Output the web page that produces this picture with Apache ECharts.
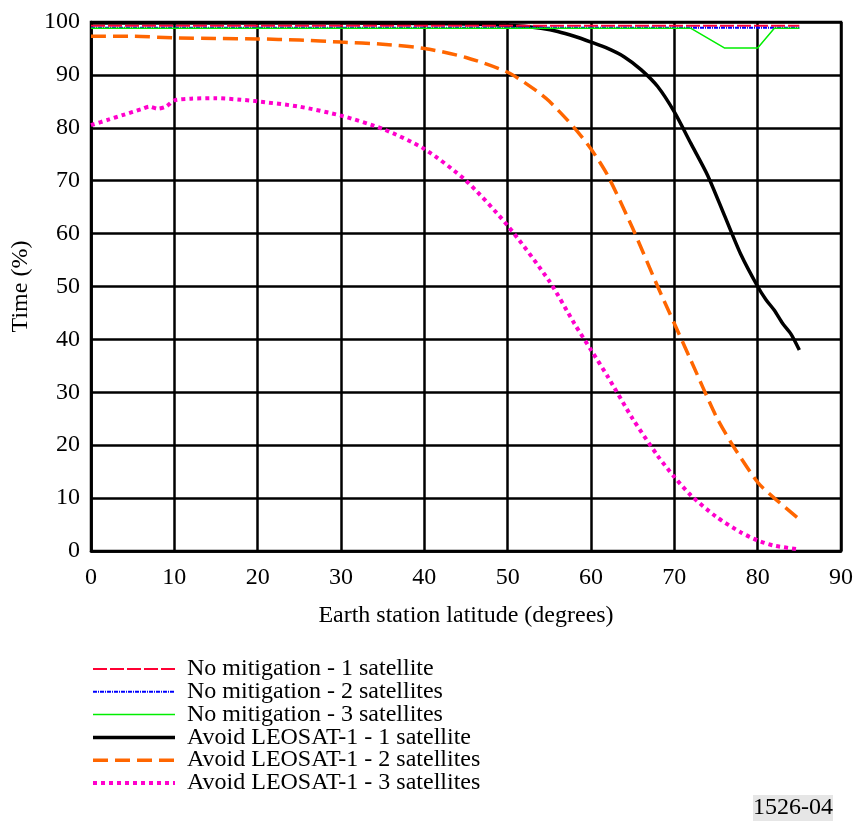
<!DOCTYPE html>
<html><head><meta charset="utf-8">
<script src="https://cdn.jsdelivr.net/npm/echarts@6/dist/echarts.min.js"></script>
<style>html,body{margin:0;padding:0;background:#fff}#c{width:854px;height:825px}</style>
</head><body><div id="c"></div>
<script>
const xTicks = [0,10,20,30,40,50,60,70,80,90];
const yTicks = [0,10,20,30,40,50,60,70,80,90,100];

const noMit1X = [0, 85];
const noMit1Y = [99.3, 99.3];
const noMit2X = [0, 85];
const noMit2Y = [98.9, 98.9];
const noMit3X = [0, 72, 76, 80, 82, 85];
const noMit3Y = [98.8, 98.8, 95.1, 95.1, 98.8, 98.8];
const avoid1X = [0,10,20,30,40,45,50,52,54,56,58,60,62,64,66,68,70,72,74,76,78,80,81,82,83,84,85];
const avoid1Y = [99.8,99.8,99.8,99.8,99.7,99.6,99.4,99.2,98.8,98.2,97.3,96.2,95,93.4,91,87.8,83,77,71,63.5,56,50,47.5,45.5,43,41,38];
const avoid2X = [0,5,10,15,20,25,30,35,40,45,50,53,55,58,60,62,65,68,70,72,75,77,80,82,85];
const avoid2Y = [97.3,97.3,97,96.9,96.8,96.6,96.2,95.8,95,93.3,90.5,87.5,85,80,76,71,61,50,43,36,25.5,20,13,10,6];
const avoid3X = [0,2,4,6,7,8,9,10,12,15,18,20,25,30,35,40,45,50,55,58,60,62,65,68,70,72,75,78,80,82,85];
const avoid3Y = [80.5,81.5,82.5,83.5,84,83.6,84,85.2,85.5,85.6,85.3,85,84,82.3,79.8,76,70,61.5,51,43,38,33,25,18,14,10.5,6.5,3.5,2,1,0.3];

const names = ["No mitigation - 1 satellite","No mitigation - 2 satellites","No mitigation - 3 satellites",
  "Avoid LEOSAT-1 - 1 satellite","Avoid LEOSAT-1 - 2 satellites","Avoid LEOSAT-1 - 3 satellites"];

function pairs(xs, ys){ return xs.map((x,i)=>[x, ys[i]]); }

const serif = "Liberation Serif, Times New Roman, serif";
const FS = 24;
const chart = echarts.init(document.getElementById('c'), null, {renderer:'canvas'});
const styles = [
  {color:'#ff0033', width:2, type:[14,3]},
  {color:'#0000ff', width:2, type:[4,1,1,1]},
  {color:'#00ee00', width:1.5, type:'solid'},
  {color:'#000000', width:3.5, type:'solid'},
  {color:'#ff6600', width:3.5, type:[15,7]},
  {color:'#ff00cc', width:4, type:[4,4]}
];
const data = [pairs(noMit1X,noMit1Y), pairs(noMit2X,noMit2Y), pairs(noMit3X,noMit3Y),
  pairs(avoid1X,avoid1Y), pairs(avoid2X,avoid2Y), pairs(avoid3X,avoid3Y)];
const order = [2,1,0,5,4,3];
const series = names.map((n,i)=>({
  name:n, type:'line', data:data[i], showSymbol:false, symbol:'none',
  smooth: i>=3 ? 0.25 : false,
  z: 10 - order.indexOf(i),
  lineStyle:{color:styles[i].color, width:styles[i].width, type:styles[i].type, cap:'butt'},
  itemStyle:{color:styles[i].color},
  animation:false
}));

chart.setOption({
  animation:false,
  grid:{left:91, right:13, top:22, bottom:274, outerBoundsMode:'none', containLabel:false,
    show:true, borderColor:'#000', borderWidth:2.5, backgroundColor:'transparent'},
  xAxis:{type:'value', min:0, max:90, interval:10,
    name:'Earth station latitude (degrees)', nameLocation:'middle', nameGap:53,
    nameTextStyle:{fontFamily:serif, fontSize:FS, color:'#000'},
    axisLine:{lineStyle:{color:'#000', width:2.5}}, axisTick:{show:false},
    axisLabel:{fontFamily:serif, fontSize:FS, color:'#000', margin:15},
    splitLine:{show:true, lineStyle:{color:'#000', width:2.5}}},
  yAxis:{type:'value', min:0, max:100, interval:10,
    name:'Time (%)', nameLocation:'middle', nameGap:54,
    nameTextStyle:{fontFamily:serif, fontSize:FS, color:'#000'},
    axisLine:{show:true, lineStyle:{color:'#000', width:2.5}}, axisTick:{show:false},
    axisLabel:{fontFamily:serif, fontSize:FS, color:'#000', margin:11},
    splitLine:{show:true, lineStyle:{color:'#000', width:2.5}}},
  legend:{orient:'vertical', left:86, top:652, height:170, itemWidth:82, itemHeight:14, itemGap:-1.2,
    textStyle:{fontFamily:serif, fontSize:FS, color:'#000', padding:[0,0,0,7]},
    data:names.map((n,i)=>({name:n, itemStyle:{opacity:0, borderWidth:0},
      lineStyle:{color:styles[i].color, width:styles[i].width, type:styles[i].type, cap:'butt'}}))},
  graphic:[{type:'text', right:21, top:795, style:{text:'1526-04', font:FS+'px '+serif, fill:'#000',
     backgroundColor:'#e6e6e6', padding:[1,0,1,0]}}],
  series:series
});
</script></body></html>
